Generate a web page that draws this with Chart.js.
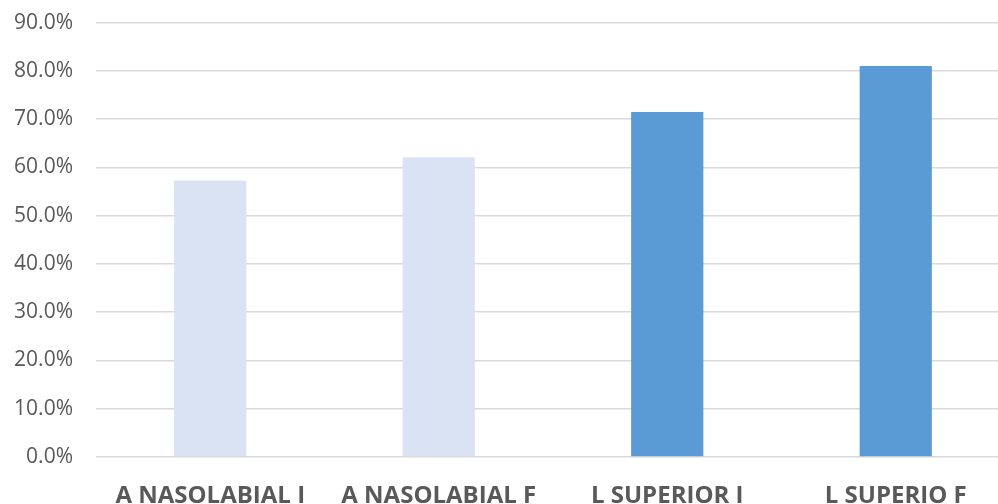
<!DOCTYPE html>
<html lang="es">
<head>
    <meta charset="UTF-8">
    <title>Chart</title>
    <script src="https://cdn.jsdelivr.net/npm/chart.js"></script>
    <style>
        html, body { margin: 0; padding: 0; background: #fff; overflow: hidden; }
        /* canvas a bit bigger than the window: last category cut off on the right like the picture,
           and pulled up so the 90% line sits near the top edge */
        .wrap { position: relative; width: 1010px; height: 517px; margin-top: -13px; }
    </style>
</head>
<body>
    <div class="wrap"><canvas id="chart"></canvas></div>
    <script>
        // data (percent)
        const categories = ['A NASOLABIAL I', 'A NASOLABIAL F', 'L SUPERIOR I', 'L SUPERIO F'];
        const values = [57.3, 62.1, 71.5, 81.0];
        const barColors = ['#DAE3F3', '#DAE3F3', '#5B9BD5', '#5B9BD5'];
        const yMax = 90;
        const yStep = 10;

        const ctx = document.getElementById('chart').getContext('2d');
        new Chart(ctx, {
            type: 'bar',
            data: {
                labels: categories,
                datasets: [{
                    data: values,
                    backgroundColor: barColors,
                    borderWidth: 0,
                    categoryPercentage: 1,
                    barPercentage: 0.316
                }]
            },
            options: {
                responsive: true,
                maintainAspectRatio: false,
                animation: false,
                layout: { padding: 0 },
                plugins: { legend: { display: false }, tooltip: { enabled: false } },
                scales: {
                    x: {
                        grid: { display: false },
                        border: { display: false },
                        ticks: {
                            color: '#595959',
                            font: { family: 'Open Sans', size: 24, weight: 'bold' },
                            padding: 17,
                            maxRotation: 0,
                            autoSkip: false
                        },
                        afterFit: s => { s.height = 47; }
                    },
                    y: {
                        min: 0,
                        max: yMax,
                        grid: { color: '#D9D9D9', lineWidth: 1.5, drawTicks: false },
                        border: { display: false },
                        ticks: {
                            stepSize: yStep,
                            color: '#595959',
                            font: { family: 'Open Sans', size: 21 },
                            padding: 23,
                            callback: v => v.toFixed(1) + '%'
                        },
                        afterFit: s => { s.width = 96; }
                    }
                }
            }
        });
    </script>
</body>
</html>
